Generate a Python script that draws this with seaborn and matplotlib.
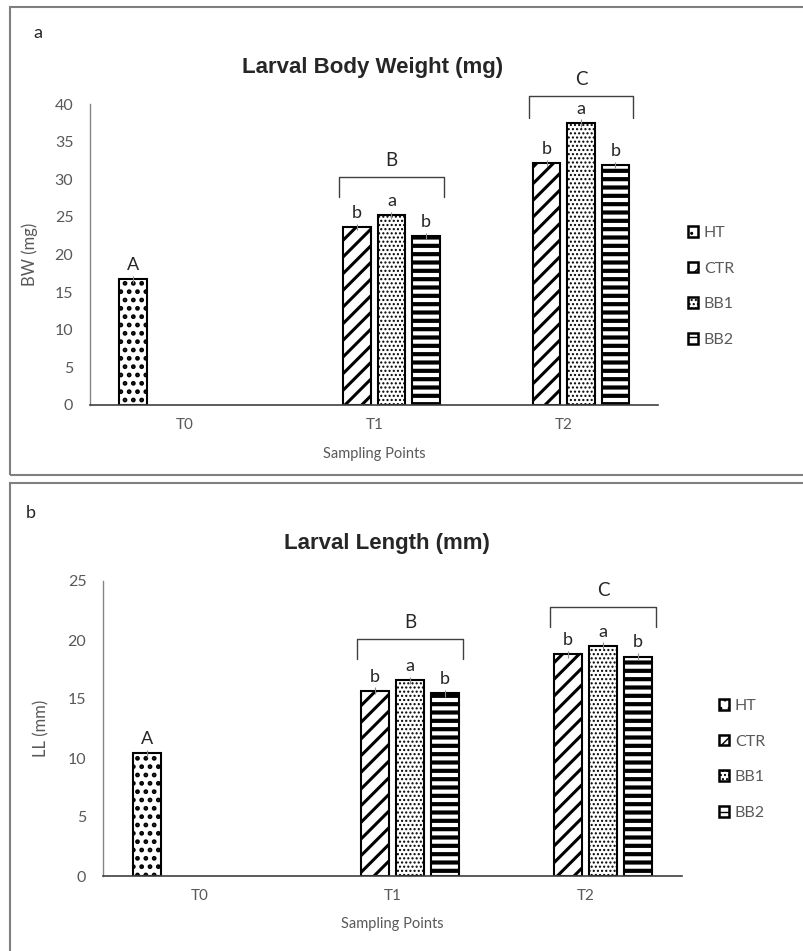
import pandas as pd
import matplotlib
matplotlib.use('Agg')
import matplotlib.pyplot as plt
import matplotlib.patches as mpatches
import seaborn as sns

# данные
times = ['T0', 'T1', 'T2']
groups = ['HT', 'CTR', 'BB1', 'BB2']

bar_time = ['T0', 'T1', 'T1', 'T1', 'T2', 'T2', 'T2']
bar_group = ['HT', 'CTR', 'BB1', 'BB2', 'CTR', 'BB1', 'BB2']
bar_letters = ['A', 'b', 'a', 'b', 'b', 'a', 'b']

bw_values = [16.7, 23.6, 25.2, 22.5, 32.2, 37.5, 31.9]
bw_err = [0.5, 0.4, 0.5, 0.4, 0.4, 0.5, 0.4]

ll_values = [10.4, 15.7, 16.6, 15.5, 18.8, 19.5, 18.6]
ll_err = [0.3, 0.3, 0.3, 0.3, 0.3, 0.3, 0.3]

bracket_times = ['T1', 'T2']
bracket_letters = ['B', 'C']

# стиль
hatches = {'HT': '..', 'CTR': '//', 'BB1': '....', 'BB2': '--'}
hatch_lw = {'HT': 2.2, 'CTR': 2.2, 'BB1': 1.0, 'BB2': 3.0}
BAR_W = 0.728
GAP = 0.19

sns.set_style('white')
plt.rcParams['font.family'] = ['Lato', 'DejaVu Sans']
TXT = '#595959'
DARK = '#262626'


def draw_panel(ax, values, err, ymax, ylabel, brackets):
    df = pd.DataFrame({'time': bar_time, 'group': bar_group, 'value': values})
    sns.barplot(data=df, x='time', y='value', hue='group', order=times,
                hue_order=groups, palette={g: 'white' for g in groups},
                saturation=1, width=BAR_W, gap=GAP, errorbar=None,
                edgecolor='black', linewidth=1.5, legend=False, ax=ax)

    pitch = BAR_W / len(groups)
    by_time = {t: [] for t in times}
    for p in list(ax.patches):
        cx = p.get_x() + p.get_width() / 2
        ti = int(round(cx))
        slot = int(round((cx - ti + BAR_W / 2 - pitch / 2) / pitch))
        g = groups[slot]
        i = [k for k in range(len(bar_time))
             if bar_time[k] == times[ti] and bar_group[k] == g][0]
        p.set_hatch(hatches[g])
        if hasattr(p, 'set_hatch_linewidth'):
            p.set_hatch_linewidth(hatch_lw[g])
        h = p.get_height()
        ax.errorbar(cx, h, yerr=err[i], fmt='none', ecolor='#8c8c8c',
                    elinewidth=0.8, capsize=0, zorder=3)
        ax.annotate(bar_letters[i], (cx, h), xytext=(0, 6.5),
                    textcoords='offset points', ha='center', va='baseline',
                    fontsize=13, color=DARK)
        by_time[times[ti]].append(p)

    # скобки над группами
    for t, lab in zip(bracket_times, bracket_letters):
        ps = by_time[t]
        x0 = min(p.get_x() for p in ps) - 0.02
        x1 = max(p.get_x() + p.get_width() for p in ps) + 0.02
        y_end, y_top = brackets[t]
        ax.plot([x0, x0, x1, x1], [y_end, y_top, y_top, y_end],
                color='#404040', lw=1, clip_on=False, solid_joinstyle='round')
        ax.annotate(lab, ((x0 + x1) / 2, y_top), xytext=(0, 8),
                    textcoords='offset points', ha='center', va='baseline',
                    fontsize=13.5, color=DARK, annotation_clip=False)

    ax.set_ylim(0, ymax)
    ax.set_yticks(range(0, ymax + 1, 5))
    ax.set_xlim(-0.5, 2.5)
    sns.despine(ax=ax)
    ax.spines['left'].set_color('#868686')
    ax.spines['left'].set_linewidth(1.0)
    ax.spines['bottom'].set_color('#404040')
    ax.spines['bottom'].set_linewidth(1.2)
    ax.tick_params(axis='both', length=0, labelsize=11.5, labelcolor=TXT)
    ax.tick_params(axis='y', pad=12)
    ax.tick_params(axis='x', pad=9.5, labelsize=11)
    ax.set_xlabel('Sampling Points', fontsize=10.5, color=TXT)
    ax.set_ylabel(ylabel, fontsize=12, color=TXT)
    ax.xaxis.set_label_coords(0.5, -0.14)
    ax.yaxis.set_label_coords(-0.092, 0.5)

    handles = []
    for g in groups:
        hp = mpatches.Patch(facecolor='white', edgecolor='black', lw=1.8,
                            hatch=hatches[g], label=g)
        handles.append(hp)
    return handles


fig = plt.figure(figsize=(8.04, 9.51), dpi=100)
W, H = 804, 951

ax1 = fig.add_axes([90 / W, 1 - 405 / H, 568.5 / W, 301 / H])
h1 = draw_panel(ax1, bw_values, bw_err, 40, 'BW (mg)',
                {'T1': (27.6, 30.3), 'T2': (38.2, 41.1)})
ax1.legend(handles=h1, loc='center left', bbox_to_anchor=(680 / W, 1 - 286.5 / H),
           bbox_transform=fig.transFigure, frameon=False, fontsize=11.5,
           handlelength=0.65, handleheight=0.65, handletextpad=0.35,
           labelspacing=1.35, borderpad=0, labelcolor=TXT)

ax2 = fig.add_axes([103 / W, 1 - 876 / H, 579 / W, 295 / H])
h2 = draw_panel(ax2, ll_values, ll_err, 25, 'LL (mm)',
                {'T1': (18.4, 20.06), 'T2': (21.1, 22.8)})
ax2.legend(handles=h2, loc='center left', bbox_to_anchor=(711 / W, 1 - 759.5 / H),
           bbox_transform=fig.transFigure, frameon=False, fontsize=11.5,
           handlelength=0.65, handleheight=0.65, handletextpad=0.35,
           labelspacing=1.35, borderpad=0, labelcolor=TXT)

# заголовки и буквы панелей
title_font = ['Liberation Sans Narrow', 'Liberation Sans', 'DejaVu Sans']
fig.text(373 / W, 1 - 67 / H, 'Larval Body Weight (mg)', ha='center', va='center',
         fontsize=16, fontweight='bold', family=title_font)
fig.text(387 / W, 1 - 543 / H, 'Larval Length (mm)', ha='center', va='center',
         fontsize=16, fontweight='bold', family=title_font)
fig.text(38 / W, 1 - 33 / H, 'a', ha='center', va='center', fontsize=13, color=DARK)
fig.text(31 / W, 1 - 513 / H, 'b', ha='center', va='center', fontsize=13, color=DARK)

# рамки панелей
fig.add_artist(mpatches.Rectangle((10 / W, 1 - 475 / H), 1.0, (475 - 7) / H,
                                  transform=fig.transFigure, fill=False,
                                  edgecolor='#7f7f7f', lw=1.5))
fig.add_artist(mpatches.Rectangle((10 / W, -0.02), 1.0, 0.02 + (951 - 483) / H,
                                  transform=fig.transFigure, fill=False,
                                  edgecolor='#7f7f7f', lw=1.5))

fig.savefig('out.png', dpi=100)
plt.close()
